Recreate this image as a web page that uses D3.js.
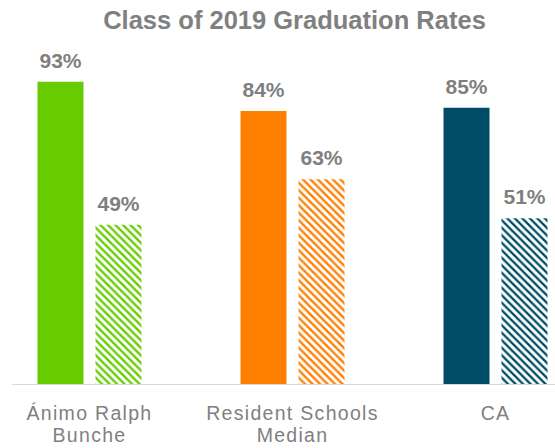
<!DOCTYPE html>
<html>
<head>
<meta charset="utf-8">
<script src="https://cdn.jsdelivr.net/npm/d3@7"></script>
<style>
  html, body { margin: 0; padding: 0; background: #fff; }
  svg { display: block; }
</style>
</head>
<body>
<div id="chart"></div>
<script>
const categories = ['Ánimo Ralph Bunche', 'Resident Schools Median', 'CA'];
const categoryLines = [['Ánimo Ralph', 'Bunche'], ['Resident Schools', 'Median'], ['CA']];
const seriesKeys = ['series1', 'series2'];
const series1 = [93, 84, 85];
const series2 = [49, 63, 51];
const colors = ['#66cc00', '#ff8000', '#004c66'];

const W = 555, H = 448;
const baseY = 384, topY = 59;

const svg = d3.select('#chart')
  .append('svg')
  .attr('width', W)
  .attr('height', H)
  .attr('font-family', 'Liberation Sans, Arial, sans-serif');

// hatch pattern per category colour
const defs = svg.append('defs');
const P = 7.5;
colors.forEach((c, i) => {
  const pat = defs.append('pattern')
    .attr('id', `hatch${i}`)
    .attr('patternUnits', 'userSpaceOnUse')
    .attr('width', P).attr('height', P);
  pat.append('rect').attr('width', P).attr('height', P).attr('fill', '#fff');
  pat.append('path')
    .attr('d', `M${-P / 2},${P / 2} L${P / 2},${P * 1.5} M0,0 L${P},${P} M${P / 2},${-P / 2} L${P * 1.5},${P / 2}`)
    .attr('stroke', c).attr('stroke-width', 2.3);
});

const x0 = d3.scaleBand().domain(categories).range([-12, 597]);
const x1 = d3.scaleBand().domain(seriesKeys).range([49.5, 153.5]).paddingInner(0.2069);
const y = d3.scaleLinear().domain([0, 100]).range([baseY, topY]);

const rows = categories.map((c, i) => ({ cat: c, i, values: [series1[i], series2[i]] }));

// title
svg.append('text')
  .attr('x', W / 2 + 17).attr('y', 29)
  .attr('text-anchor', 'middle')
  .attr('font-size', 25.5).attr('font-weight', 'bold')
  .attr('fill', '#808080')
  .text('Class of 2019 Graduation Rates');

// baseline
svg.append('line')
  .attr('x1', 12).attr('x2', W)
  .attr('y1', baseY + 0.5).attr('y2', baseY + 0.5)
  .attr('stroke', '#d9d9d9').attr('stroke-width', 1.2);

const groups = svg.append('g').selectAll('g')
  .data(rows).join('g')
  .attr('transform', (d) => `translate(${x0(d.cat)},0)`);

groups.selectAll('rect')
  .data((d) => d.values.map((v, k) => ({ key: seriesKeys[k], v, i: d.i })))
  .join('rect')
  .attr('x', (d) => x1(d.key))
  .attr('width', x1.bandwidth())
  .attr('y', (d) => y(d.v))
  .attr('height', (d) => y(0) - y(d.v))
  .attr('fill', (d) => (d.key === 'series1' ? colors[d.i] : `url(#hatch${d.i})`));

groups.selectAll('text.val')
  .data((d) => d.values.map((v, k) => ({ key: seriesKeys[k], v })))
  .join('text')
  .attr('class', 'val')
  .attr('x', (d) => x1(d.key) + x1.bandwidth() / 2)
  .attr('y', (d) => y(d.v) - 14)
  .attr('text-anchor', 'middle')
  .attr('font-size', 21).attr('font-weight', 'bold')
  .attr('fill', '#7f7f7f')
  .text((d) => `${d.v}%`);

// category axis
const xAxis = svg.append('g')
  .attr('transform', `translate(0,${baseY})`)
  .call(d3.axisBottom(x0).tickSize(0).tickFormat(''));
xAxis.select('.domain').remove();
xAxis.selectAll('.tick text').remove();
xAxis.selectAll('.tick').append('text')
  .attr('text-anchor', 'middle')
  .attr('fill', '#7f7f7f')
  .attr('font-size', 19.5)
  .attr('letter-spacing', 1.3)
  .selectAll('tspan')
  .data((d) => categoryLines[categories.indexOf(d)])
  .join('tspan')
  .attr('x', 0)
  .attr('y', (d, k) => 36 + k * 22)
  .text((d) => d);
</script>
</body>
</html>
